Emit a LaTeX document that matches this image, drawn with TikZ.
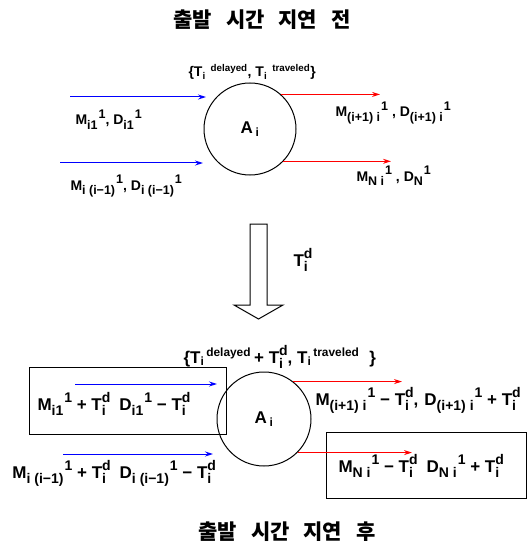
\documentclass[tikz,border=0pt]{standalone}
\usepackage{amsmath}
\usepackage{fontspec}
\setmainfont{Liberation Sans}
\newfontfamily\krfont{Noto Sans CJK KR}
\usetikzlibrary{arrows.meta}
\newcommand{\scsz}{10}
\newcommand{\scr}{\fontsize{\scsz}{\scsz}\selectfont}
\newcommand{\sx}[3]{#1\raisebox{-0.3em}{\scr #2}\kern1pt\raisebox{0.45em}{\scr #3}}
\newcommand{\tdel}{T\makebox[0pt][l]{\raisebox{-0.3em}{\scr i}}\raisebox{0.45em}{\scr d}}

\begin{document}
\begin{tikzpicture}[x=1pt,y=-1pt,line width = 1pt,
  inarrow/.style = {blue, -{Stealth[length=8pt,width=5pt]}},
  outarrow/.style = {red, -{Stealth[length=8pt,width=5pt]}},
  lbltop/.style = {font=\fontsize{14}{16}\selectfont\bfseries\renewcommand{\scsz}{12.5}, inner sep=0pt, anchor=base west},
  lblbot/.style = {font=\fontsize{17}{19}\selectfont\bfseries\renewcommand{\scsz}{14}, inner sep=0pt, anchor=base west},
  heading/.style = {font=\krfont\fontsize{21}{25}\selectfont\bfseries, inner sep=0pt},
  station/.style = {circle, draw, inner sep=0pt, font=\fontsize{17}{19}\selectfont\bfseries}]
\useasboundingbox (0,0) rectangle (529,548);

\node[heading] (before) at (262,20) {출발\hspace{14pt}시간\hspace{14pt}지연\hspace{14pt}전};
\node[station, minimum size = 92pt] (A1) at (250,129) {A\,\textsubscript{i}};
\node[lbltop] (set1) at (188,77) {\{T\textsubscript{i}\hspace{5pt}\textsuperscript{delayed}, T\textsubscript{i}\hspace{5pt}\textsuperscript{traveled}\}};

\coordinate (in1s) at (70,97);
\coordinate (in1e) at (206,97);
\coordinate (in2s) at (60,163);
\coordinate (in2e) at (203,163);
\coordinate (out1) at (380,0);
\coordinate (out2) at (391,0);
\draw[inarrow] (in1s) -- (in1e);
\draw[inarrow] (in2s) -- (in2e);
\draw[outarrow] (A1.48) -- (A1.48 -| out1);
\draw[outarrow] (A1.-44) -- (A1.-44 -| out2);

\node[lbltop] (m1) at (75,125) {\sx{M}{i1}{1}, \sx{D}{i1}{1}};
\node[lbltop] (m2) at (70,190) {\sx{M}{i (i−1)}{1}, \sx{D}{i (i−1)}{1}};
\node[lbltop] (m3) at (335,117) {\sx{M}{(i+1) i}{1} , \sx{D}{(i+1) i}{1}};
\node[lbltop] (m4) at (356,181) {\sx{M}{N i}{1} , \sx{D}{N}{1}};

\draw (250,224) -- (267,224) -- (267,305) -- (283,305) -- (258.5,319) -- (234,305) -- (250,305) -- cycle;
\node[lblbot] (delay) at (293,266) {\tdel};

\node[lblbot] (set2) at (183,363) {\{T\textsubscript{i}\hspace{2pt}\textsuperscript{delayed}\hspace{3pt}+ \tdel, T\textsubscript{i}\hspace{2pt}\textsuperscript{traveled}\hspace{10pt}\}};
\draw (29,367) rectangle (226,434);
\draw (326,432) rectangle (526,498);
\node[station, minimum size = 94pt] (A2) at (264,419) {A\,\textsubscript{i}};

\coordinate (in3s) at (75,384);
\coordinate (in3e) at (217,384);
\coordinate (in4s) at (63,454);
\coordinate (in4e) at (213,454);
\coordinate (out3) at (402,0);
\coordinate (out4) at (412,0);
\draw[inarrow] (in3s) -- (in3e);
\draw[inarrow] (in4s) -- (in4e);
\draw[outarrow] (A2.52) -- (A2.52 -| out3);
\draw[outarrow] (A2.-45) -- (A2.-45 -| out4);

\node[lblbot] (n1) at (37,410) {\sx{M}{i1}{1} + \tdel\hspace{9pt}\sx{D}{i1}{1} − \tdel};
\node[lblbot] (n2) at (12,478) {\sx{M}{i (i−1)}{1} + \tdel\hspace{9pt}\sx{D}{i (i−1)}{1} − \tdel};
\node[lblbot] (n3) at (315,405) {\sx{M}{(i+1) i}{1} − \tdel,\hspace{6pt}\sx{D}{(i+1) i}{1} + \tdel};
\node[lblbot] (n4) at (338,472) {\sx{M}{N i}{1} − \tdel\hspace{9pt}\sx{D}{N i}{1} + \tdel};

\node[heading] (after) at (287,532) {출발\hspace{14pt}시간\hspace{14pt}지연\hspace{14pt}후};
\end{tikzpicture}
\end{document}
